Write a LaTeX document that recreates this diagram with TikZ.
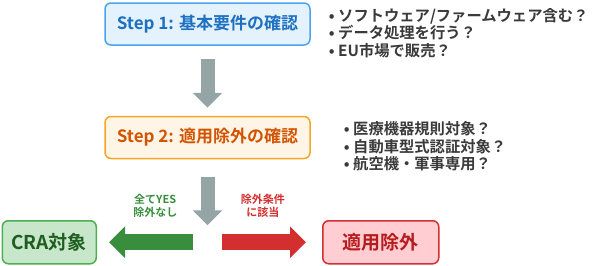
\documentclass[tikz,border=0pt]{standalone}
\usepackage{fontspec}
\setmainfont{Noto Sans CJK JP}[BoldFont={Noto Sans CJK JP Bold}]
\usepackage{tikz}
\usetikzlibrary{
	arrows.meta,
	positioning
}

\definecolor{stepblue}{HTML}{1E70C0}
\definecolor{stepblueline}{HTML}{4AA3F0}
\definecolor{stepbluefill}{HTML}{E3F2FD}
\definecolor{steporange}{HTML}{D35400}
\definecolor{steporangeline}{HTML}{F5A623}
\definecolor{steporangefill}{HTML}{FEF5E7}
\definecolor{craGreen}{HTML}{1E5E20}
\definecolor{craGreenline}{HTML}{4CAF50}
\definecolor{craGreenfill}{HTML}{C8E6C9}
\definecolor{arrowgreen}{HTML}{388E3C}
\definecolor{exRed}{HTML}{B71C1C}
\definecolor{exRedline}{HTML}{D32F2F}
\definecolor{exRedfill}{HTML}{FFCDD2}
\definecolor{arrowred}{HTML}{D32F2F}
\definecolor{arrowgray}{HTML}{95A5A6}
\definecolor{bullettext}{HTML}{3A3A3A}

\begin{document}
\begin{tikzpicture}[
				box/.style={
					rectangle, draw, rounded corners=6pt, line width=1.5pt,
					inner sep=0pt, align=center
				},
				stepbox/.style={
					box, minimum width=205pt, minimum height=42pt,
					font=\fontsize{17}{20}\selectfont\bfseries
				},
				bluebox/.style={
					stepbox, draw=stepblueline, fill=stepbluefill, text=stepblue
				},
				orangebox/.style={
					stepbox, draw=steporangeline, fill=steporangefill, text=steporange
				},
				resultbox/.style={
					box, minimum height=43pt,
					font=\fontsize{19}{22}\selectfont\bfseries
				},
				greenbox/.style={
					resultbox, minimum width=94pt,
					draw=craGreenline, fill=craGreenfill, text=craGreen
				},
				redbox/.style={
					resultbox, minimum width=116pt,
					draw=exRedline, fill=exRedfill, text=exRed
				},
				bullets/.style={
					align=left, inner sep=0pt, text=bullettext,
					font=\fontsize{15.3}{17.5}\selectfont\bfseries
				},
				smalllabel/.style={
					align=center, inner sep=0pt,
					font=\fontsize{11}{13}\selectfont\bfseries
				},
				downarrow/.style={
					draw=arrowgray, line width=14pt,
					-{Triangle[length=15pt, width=29pt]}
				},
				sidearrow/.style={
					line width=16pt,
					-{Triangle[length=16pt, width=31pt]}
				}
				]
				
				\useasboundingbox (0,0) rectangle (612pt,-265pt);
				
				% Step 1
				\node[bluebox] (step1) at (207.5pt,-24pt) {Step 1: 基本要件の確認};
				\node[bullets, anchor=west] (step1list) at ([xshift=18pt, yshift=-9pt]step1.east)
					{• ソフトウェア/ファームウェア含む？\\• データ処理を行う？\\• EU市場で販売？};
				
				% Step 2
				\node[orangebox, below=70pt of step1] (step2) {Step 2: 適用除外の確認};
				\node[bullets, anchor=west] (step2list) at ([xshift=33pt, yshift=-9pt]step2.east)
					{• 医療機器規則対象？\\• 自動車型式認証対象？\\• 航空機・軍事専用？};
				
				% branch point
				\coordinate[below=83pt of step2] (split);
				
				% results
				\node[greenbox, left=110.5pt of split, anchor=east] (cra) {CRA対象};
				\node[redbox, right=114.5pt of split, anchor=west] (excl) {適用除外};
				
				% arrows
				\draw[downarrow, shorten <=13pt, shorten >=8pt] (step1) -- (step2);
				\draw[downarrow, shorten <=18pt, shorten >=17pt] (step2) -- (split);
				\draw[sidearrow, draw=arrowgreen, shorten <=14.5pt, shorten >=12pt] (split) -- (cra)
					node[smalllabel, text=arrowgreen, midway, above=17pt, xshift=3pt] (yesLabel) {全てYES\\除外なし};
				\draw[sidearrow, draw=arrowred, shorten <=14.5pt, shorten >=16pt] (split) -- (excl)
					node[smalllabel, text=arrowred, midway, above=17pt, xshift=-2pt] (exLabel) {除外条件\\に該当};
			\end{tikzpicture}
\end{document}
